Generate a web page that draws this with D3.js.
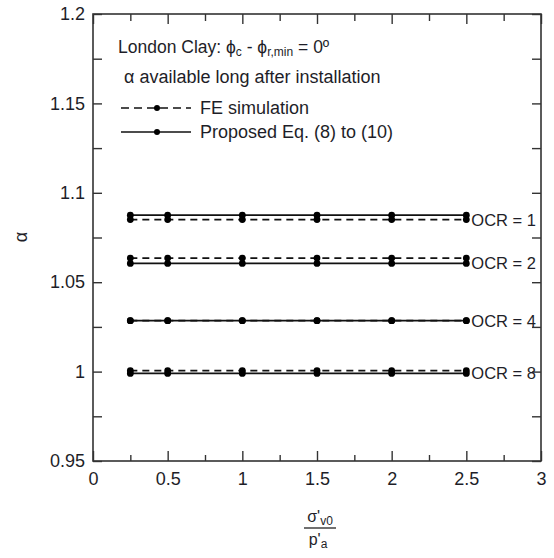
<!DOCTYPE html>
<html>
<head>
<meta charset="utf-8">
<script src="https://cdn.jsdelivr.net/npm/d3@7"></script>
<style>
  body { margin: 0; background: #fff; }
  svg text { font-family: Arial, 'Liberation Sans', sans-serif; fill: #1e1e28; }
</style>
</head>
<body>
<script>
// Data
const stress = [0.25, 0.5, 1, 1.5, 2, 2.5];
const ocrLabels = ['OCR = 1', 'OCR = 2', 'OCR = 4', 'OCR = 8'];
const feAlpha = [
  [1.085, 1.085, 1.085, 1.085, 1.085, 1.085],
  [1.0635, 1.0635, 1.0635, 1.0635, 1.0635, 1.0635],
  [1.0285, 1.0285, 1.0285, 1.0285, 1.0285, 1.0285],
  [1.0005, 1.0005, 1.0005, 1.0005, 1.0005, 1.0005]
];
const eqAlpha = [
  [1.0875, 1.0875, 1.0875, 1.0875, 1.0875, 1.0875],
  [1.0605, 1.0605, 1.0605, 1.0605, 1.0605, 1.0605],
  [1.0285, 1.0285, 1.0285, 1.0285, 1.0285, 1.0285],
  [0.999, 0.999, 0.999, 0.999, 0.999, 0.999]
];
const xTicks = [0, 0.5, 1, 1.5, 2, 2.5, 3];
const yTicks = [0.95, 1, 1.05, 1.1, 1.15, 1.2];

const width = 554;
const height = 558;
const plotLeft = 93, plotRight = 541, plotTop = 14, plotBottom = 461;

const svg = d3
  .select('body')
  .append('svg')
  .attr('width', width)
  .attr('height', height);

const x = d3.scaleLinear().domain([0, 3]).range([plotLeft, plotRight]);
const y = d3.scaleLinear().domain([0.95, 1.2]).range([plotBottom, plotTop]);

const xMinor = d3.range(0.25, 3, 0.5);
const yMinor = d3.range(0.975, 1.2, 0.05);

// axes, ticks pointing inward
const axisStyle = (g) => {
  g.select('.domain').remove();
  g.selectAll('line').attr('stroke', '#333').attr('stroke-width', 1.4);
  g.selectAll('text').attr('font-size', 18).attr('fill', '#1e1e28');
};

svg.append('g')
  .attr('transform', `translate(0,${plotBottom})`)
  .call(d3.axisBottom(x).tickValues(xTicks).tickSize(-10).tickPadding(11)
    .tickFormat((d) => d3.format('')(d)))
  .call(axisStyle);
svg.append('g')
  .attr('transform', `translate(0,${plotBottom})`)
  .call(d3.axisBottom(x).tickValues(xMinor).tickSize(-6).tickFormat(''))
  .call(axisStyle);
svg.append('g')
  .attr('transform', `translate(0,${plotTop})`)
  .call(d3.axisTop(x).tickValues(xTicks).tickSize(-10).tickFormat(''))
  .call(axisStyle);
svg.append('g')
  .attr('transform', `translate(0,${plotTop})`)
  .call(d3.axisTop(x).tickValues(xMinor).tickSize(-7).tickFormat(''))
  .call(axisStyle);

svg.append('g')
  .attr('transform', `translate(${plotLeft},0)`)
  .call(d3.axisLeft(y).tickValues(yTicks).tickSize(-9).tickPadding(8)
    .tickFormat((d) => d3.format('')(+d.toFixed(2))))
  .call(axisStyle);
svg.append('g')
  .attr('transform', `translate(${plotLeft},0)`)
  .call(d3.axisLeft(y).tickValues(yMinor).tickSize(-9).tickFormat(''))
  .call(axisStyle);
svg.append('g')
  .attr('transform', `translate(${plotRight},0)`)
  .call(d3.axisRight(y).tickValues(yTicks).tickSize(-9).tickFormat(''))
  .call(axisStyle);
svg.append('g')
  .attr('transform', `translate(${plotRight},0)`)
  .call(d3.axisRight(y).tickValues(yMinor).tickSize(-9).tickFormat(''))
  .call(axisStyle);

// frame
svg.append('rect')
  .attr('x', plotLeft).attr('y', plotTop)
  .attr('width', plotRight - plotLeft).attr('height', plotBottom - plotTop)
  .attr('fill', 'none').attr('stroke', '#333').attr('stroke-width', 1.6);

// series
const line = d3.line().x((d) => x(d[0])).y((d) => y(d[1]));

const drawSeries = (vals, dashed) => {
  const pts = stress.map((s, i) => [s, vals[i]]);
  svg.append('path')
    .datum(pts)
    .attr('d', line)
    .attr('fill', 'none')
    .attr('stroke', '#111')
    .attr('stroke-width', 1.7)
    .attr('stroke-dasharray', dashed ? '7,5' : null);
  svg.append('g')
    .selectAll('circle')
    .data(pts)
    .enter()
    .append('circle')
    .attr('cx', (d) => x(d[0]))
    .attr('cy', (d) => y(d[1]))
    .attr('r', 3.4)
    .attr('fill', '#000');
};

feAlpha.forEach((v) => drawSeries(v, true));
eqAlpha.forEach((v) => drawSeries(v, false));

// OCR labels
ocrLabels.forEach((lab, i) => {
  svg.append('text')
    .attr('x', x(stress[stress.length - 1]) + 5)
    .attr('y', Math.max(y(feAlpha[i][5]), y(eqAlpha[i][5])) + 6)
    .attr('font-size', 16.5)
    .text(lab);
});

// legend / annotation
const title = svg.append('text').attr('x', 118).attr('y', 53).attr('font-size', 17.5);
title.append('tspan').text('London Clay: ');
title.append('tspan').text('ϕ');
title.append('tspan').attr('font-size', 12).attr('dy', 3).text('c');
title.append('tspan').attr('dy', -3).text(' - ϕ');
title.append('tspan').attr('font-size', 12).attr('dy', 3).text('r,min');
title.append('tspan').attr('dy', -3).text(' = 0º');

svg.append('text').attr('x', 124).attr('y', 83).attr('font-size', 18)
  .text('α available long after installation');

const legendItems = [
  { label: 'FE simulation', dashed: true, y: 108 },
  { label: 'Proposed Eq. (8) to (10)', dashed: false, y: 132 }
];
legendItems.forEach((it) => {
  svg.append('line')
    .attr('x1', 121).attr('x2', 191)
    .attr('y1', it.y).attr('y2', it.y)
    .attr('stroke', '#111').attr('stroke-width', 1.6)
    .attr('stroke-dasharray', it.dashed ? '8,5' : null);
  svg.append('circle').attr('cx', 157).attr('cy', it.y).attr('r', 3).attr('fill', '#000');
  svg.append('text').attr('x', 200).attr('y', it.y + 6).attr('font-size', 18).text(it.label);
});

// axis titles
svg.append('text')
  .attr('transform', 'translate(27,237) rotate(-90)')
  .attr('text-anchor', 'middle')
  .attr('font-size', 18)
  .text('α');

const num = svg.append('text').attr('x', 320).attr('y', 522)
  .attr('text-anchor', 'middle').attr('font-size', 16);
num.append('tspan').text('σ\'');
num.append('tspan').attr('font-size', 12).attr('dy', 3).text('v0');

svg.append('line')
  .attr('x1', 304).attr('x2', 336).attr('y1', 528).attr('y2', 528)
  .attr('stroke', '#222').attr('stroke-width', 1.3);

const den = svg.append('text').attr('x', 318).attr('y', 545)
  .attr('text-anchor', 'middle').attr('font-size', 16);
den.append('tspan').text('p\'');
den.append('tspan').attr('font-size', 12).attr('dy', 3).text('a');
</script>
</body>
</html>
